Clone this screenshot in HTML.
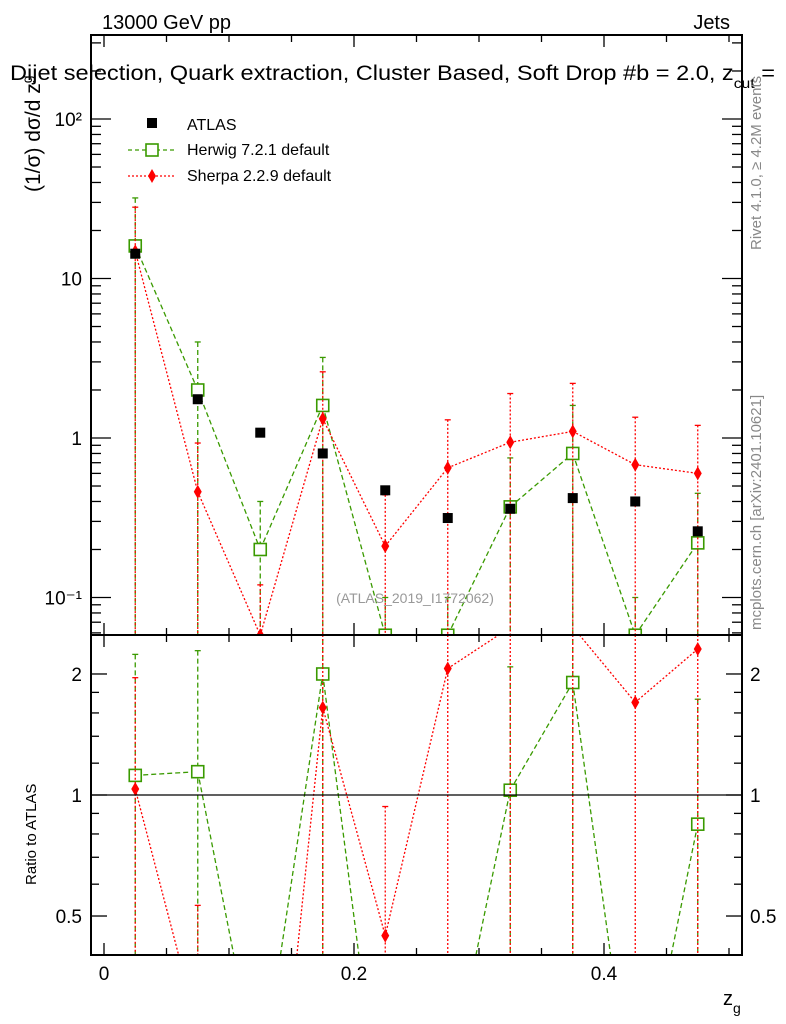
<!DOCTYPE html>
<html><head><meta charset="utf-8"><style>
html,body{margin:0;padding:0;background:#fff;overflow:hidden;width:786px;height:1024px;}
svg{display:block;font-family:"Liberation Sans",sans-serif;}
</style></head><body>
<svg id="chart" width="786" height="1024" viewBox="0 0 786 1024" xmlns="http://www.w3.org/2000/svg" overflow="hidden">
<rect x="0" y="0" width="786" height="1024" fill="#fff"/>
<text x="102" y="29" font-size="20">13000 GeV pp</text>
<text x="730" y="29" font-size="20" text-anchor="end">Jets</text>
<g id="marks"></g>
<rect x="91" y="35" width="651" height="600" fill="none" stroke="#000" stroke-width="2"/>
<rect x="91" y="635" width="651" height="320" fill="none" stroke="#000" stroke-width="2"/>
<line x1="91" y1="795" x2="742" y2="795" stroke="#000" stroke-width="1.3"/>
<g id="axes"></g>
<text x="10" y="80" font-size="21" textLength="765" lengthAdjust="spacingAndGlyphs">Dijet selection, Quark extraction, Cluster Based, Soft Drop #b = 2.0, z<tspan font-size="14" dy="8">cut</tspan><tspan dy="-8"> =</tspan></text>
<text transform="translate(40,192) rotate(-90)" font-size="21">(1/σ) dσ/d z<tspan font-size="14" dy="-8">g</tspan></text>
<text transform="translate(36,885) rotate(-90)" font-size="15">Ratio to ATLAS</text>
<text x="723" y="1005" font-size="20">z<tspan font-size="14" dy="8">g</tspan></text>
<text transform="translate(761,250) rotate(-90)" font-size="15" fill="#888">Rivet 4.1.0, ≥ 4.2M events</text>
<text transform="translate(761,630) rotate(-90)" font-size="15" fill="#888">mcplots.cern.ch [arXiv:2401.10621]</text>
<text x="415" y="603" font-size="14" fill="#999" text-anchor="middle">(ATLAS_2019_I1772062)</text>
<g>
<rect x="147" y="118" width="10" height="10" fill="#000"/>
<text x="187" y="130" font-size="16">ATLAS</text>
<line x1="128" y1="150" x2="175" y2="150" stroke="#3a9a00" stroke-width="1.3" stroke-dasharray="4,3"/>
<rect x="146" y="144" width="12" height="12" fill="#fff" stroke="#3a9a00" stroke-width="1.6"/>
<text x="187" y="155" font-size="16">Herwig 7.2.1 default</text>
<line x1="128" y1="176" x2="175" y2="176" stroke="#f00" stroke-width="1.3" stroke-dasharray="2,2"/>
<path d="M152,169 L156,176 L152,183 L148,176 Z" fill="#f00"/>
<text x="187" y="181" font-size="16">Sherpa 2.2.9 default</text>
</g>
</svg>
<script>
const zg = [0.025,0.075,0.125,0.175,0.225,0.275,0.325,0.375,0.425,0.475];
const atlas = [14.3,1.75,1.08,0.8,0.47,0.315,0.36,0.42,0.40,0.26];
const herwig = [16,2.0,0.2,1.6,0.058,0.058,0.37,0.8,0.058,0.22];
const herwigUp = [32,4.0,0.4,3.2,0.1,0.1,0.75,1.6,0.1,0.45];
const sherpa = [14.8,0.46,0.058,1.32,0.21,0.65,0.94,1.1,0.68,0.6];
const sherpaUp = [28,0.93,0.12,2.6,0.44,1.3,1.9,2.2,1.35,1.2];
const xTicks = [0,0.2,0.4];
const xTickLabels = ["0","0.2","0.4"];
const mainTickLabels = ["10⁻¹","1","10","10²"];
const mainTickVals = [0.1,1,10,100];
const ratioTickVals = [0.5,1,2];
const ratioTickLabels = ["0.5","1","2"];

const NS="http://www.w3.org/2000/svg";
const X = v => 104 + 1250*v;
const Y = v => 438 - 159.5*Math.log10(v);
const R = v => 795 - 402*Math.log10(v);
const marks = document.getElementById('marks');
const axes = document.getElementById('axes');
function mk(tag, attrs, parent){const e=document.createElementNS(NS,tag);for(const k in attrs)e.setAttribute(k,attrs[k]);parent.appendChild(e);return e;}

const defs = mk('defs',{},marks);
const c1 = mk('clipPath',{id:'cm'},defs); mk('rect',{x:91,y:35,width:651,height:600},c1);
const c2 = mk('clipPath',{id:'cr'},defs); mk('rect',{x:91,y:635,width:651,height:320},c2);
const gm = mk('g',{'clip-path':'url(#cm)'},marks);
const gr = mk('g',{'clip-path':'url(#cr)'},marks);

function clipSeg(x1,y1,x2,y2,top,bot){
  let t0=0,t1=1; const dy=y2-y1;
  if(dy===0){ if(y1<top||y1>bot) return null; }
  else{
    let ta=(top-y1)/dy, tb=(bot-y1)/dy;
    if(ta>tb){const s=ta;ta=tb;tb=s;}
    t0=Math.max(t0,ta); t1=Math.min(t1,tb);
    if(t0>=t1) return null;
  }
  return [x1+(x2-x1)*t0, y1+dy*t0, x1+(x2-x1)*t1, y1+dy*t1];
}

function series(g, vals, ups, color, dash, yf, name, marker, top, bottom){
  const cl = y => Math.max(top-20, Math.min(bottom+20, y));
  vals.forEach((v,i)=>{
    const yu = cl(yf(ups[i]));
    const l = mk('line',{x1:X(zg[i]),x2:X(zg[i]),y1:yu,y2:bottom,stroke:color,'stroke-width':1.3,'stroke-dasharray':dash},g);
    
    
    mk('line',{x1:X(zg[i])-3,x2:X(zg[i])+3,y1:yu,y2:yu,stroke:color,'stroke-width':1.3},g);
  });
  for(let i=0;i<vals.length-1;i++){
    const s = clipSeg(X(zg[i]),yf(vals[i]),X(zg[i+1]),yf(vals[i+1]),top,bottom);
    if(!s) continue;
    const l = mk('line',{x1:s[0],y1:s[1],x2:s[2],y2:s[3],stroke:color,'stroke-width':1.3,'stroke-dasharray':dash},g);
    
    
  }
  vals.forEach((v,i)=>{
    const x=X(zg[i]), y=yf(v);
    if(y<top-10||y>bottom+10) return;
    let m;
    if(marker==='sq') m = mk('rect',{x:x-6,y:y-6,width:12,height:12,fill:'#fff',stroke:color,'stroke-width':1.6},g);
    else m = mk('path',{d:`M${x},${y-7} L${x+4},${y} L${x},${y+7} L${x-4},${y} Z`,fill:color},g);
    
    
  });
}
series(gm, herwig, herwigUp, '#3a9a00', '5,3', v=>Y(v), 'herwig', 'sq', 35, 635);
series(gm, sherpa, sherpaUp, '#f00', '2,2', v=>Y(v), 'sherpa', 'dia', 35, 635);
atlas.forEach((v,i)=>{
  const r = mk('rect',{x:X(zg[i])-5,y:Y(v)-5,width:10,height:10,fill:'#000'},gm);
  
  
});
series(gr, herwig.map((v,i)=>v/atlas[i]), herwigUp.map((v,i)=>v/atlas[i]), '#3a9a00', '5,3', v=>R(v), 'herwig-ratio', 'sq', 635, 955);
series(gr, sherpa.map((v,i)=>v/atlas[i]), sherpaUp.map((v,i)=>v/atlas[i]), '#f00', '2,2', v=>R(v), 'sherpa-ratio', 'dia', 635, 955);

for(let k=0;k<=10;k++){
  const v=k*0.05, x=X(v), major = (k%4===0);
  const L = major?12:7;
  [[35,1],[635,-1],[635,1],[955,-1]].forEach(([y,d])=>mk('line',{x1:x,x2:x,y1:y,y2:y+d*L,stroke:'#000','stroke-width':1.3},axes));
}
xTicks.forEach((v,i)=>{
  const t = mk('text',{x:X(v),y:980,'font-size':19,'text-anchor':'middle'},axes);
  t.textContent = xTickLabels[i];
  
  
});
for(let d=-2; d<=2; d++){
  for(let m=1;m<10;m++){
    const v=m*Math.pow(10,d), y=Y(v);
    if(y<36||y>634) continue;
    const L = m===1?20:10;
    mk('line',{x1:91,x2:91+L,y1:y,y2:y,stroke:'#000','stroke-width':1.3},axes);
    mk('line',{x1:742,x2:742-L,y1:y,y2:y,stroke:'#000','stroke-width':1.3},axes);
  }
}
mainTickVals.forEach((v,i)=>{
  const t = mk('text',{x:82,y:Y(v)+7,'font-size':19,'text-anchor':'end'},axes);
  t.textContent = mainTickLabels[i];
  
  
});
[0.4,0.5,0.6,0.7,0.8,0.9,1,2].forEach(v=>{
  const y=R(v); if(y<636||y>954) return;
  const L = (v===0.5||v===1||v===2)?16:8;
  mk('line',{x1:91,x2:91+L,y1:y,y2:y,stroke:'#000','stroke-width':1.3},axes);
  mk('line',{x1:742,x2:742-L,y1:y,y2:y,stroke:'#000','stroke-width':1.3},axes);
});
[1.2,1.4,1.6,1.8].forEach(v=>{const y=R(v);
  mk('line',{x1:91,x2:99,y1:y,y2:y,stroke:'#000','stroke-width':1.3},axes);
  mk('line',{x1:742,x2:734,y1:y,y2:y,stroke:'#000','stroke-width':1.3},axes);});
ratioTickVals.forEach((v,i)=>{
  const t = mk('text',{x:82,y:R(v)+7,'font-size':19,'text-anchor':'end'},axes);
  t.textContent = ratioTickLabels[i];
  
  
  const t2 = mk('text',{x:750,y:R(v)+7,'font-size':19},axes);
  t2.textContent = ratioTickLabels[i];
  
  
});
</script>
</body></html>
